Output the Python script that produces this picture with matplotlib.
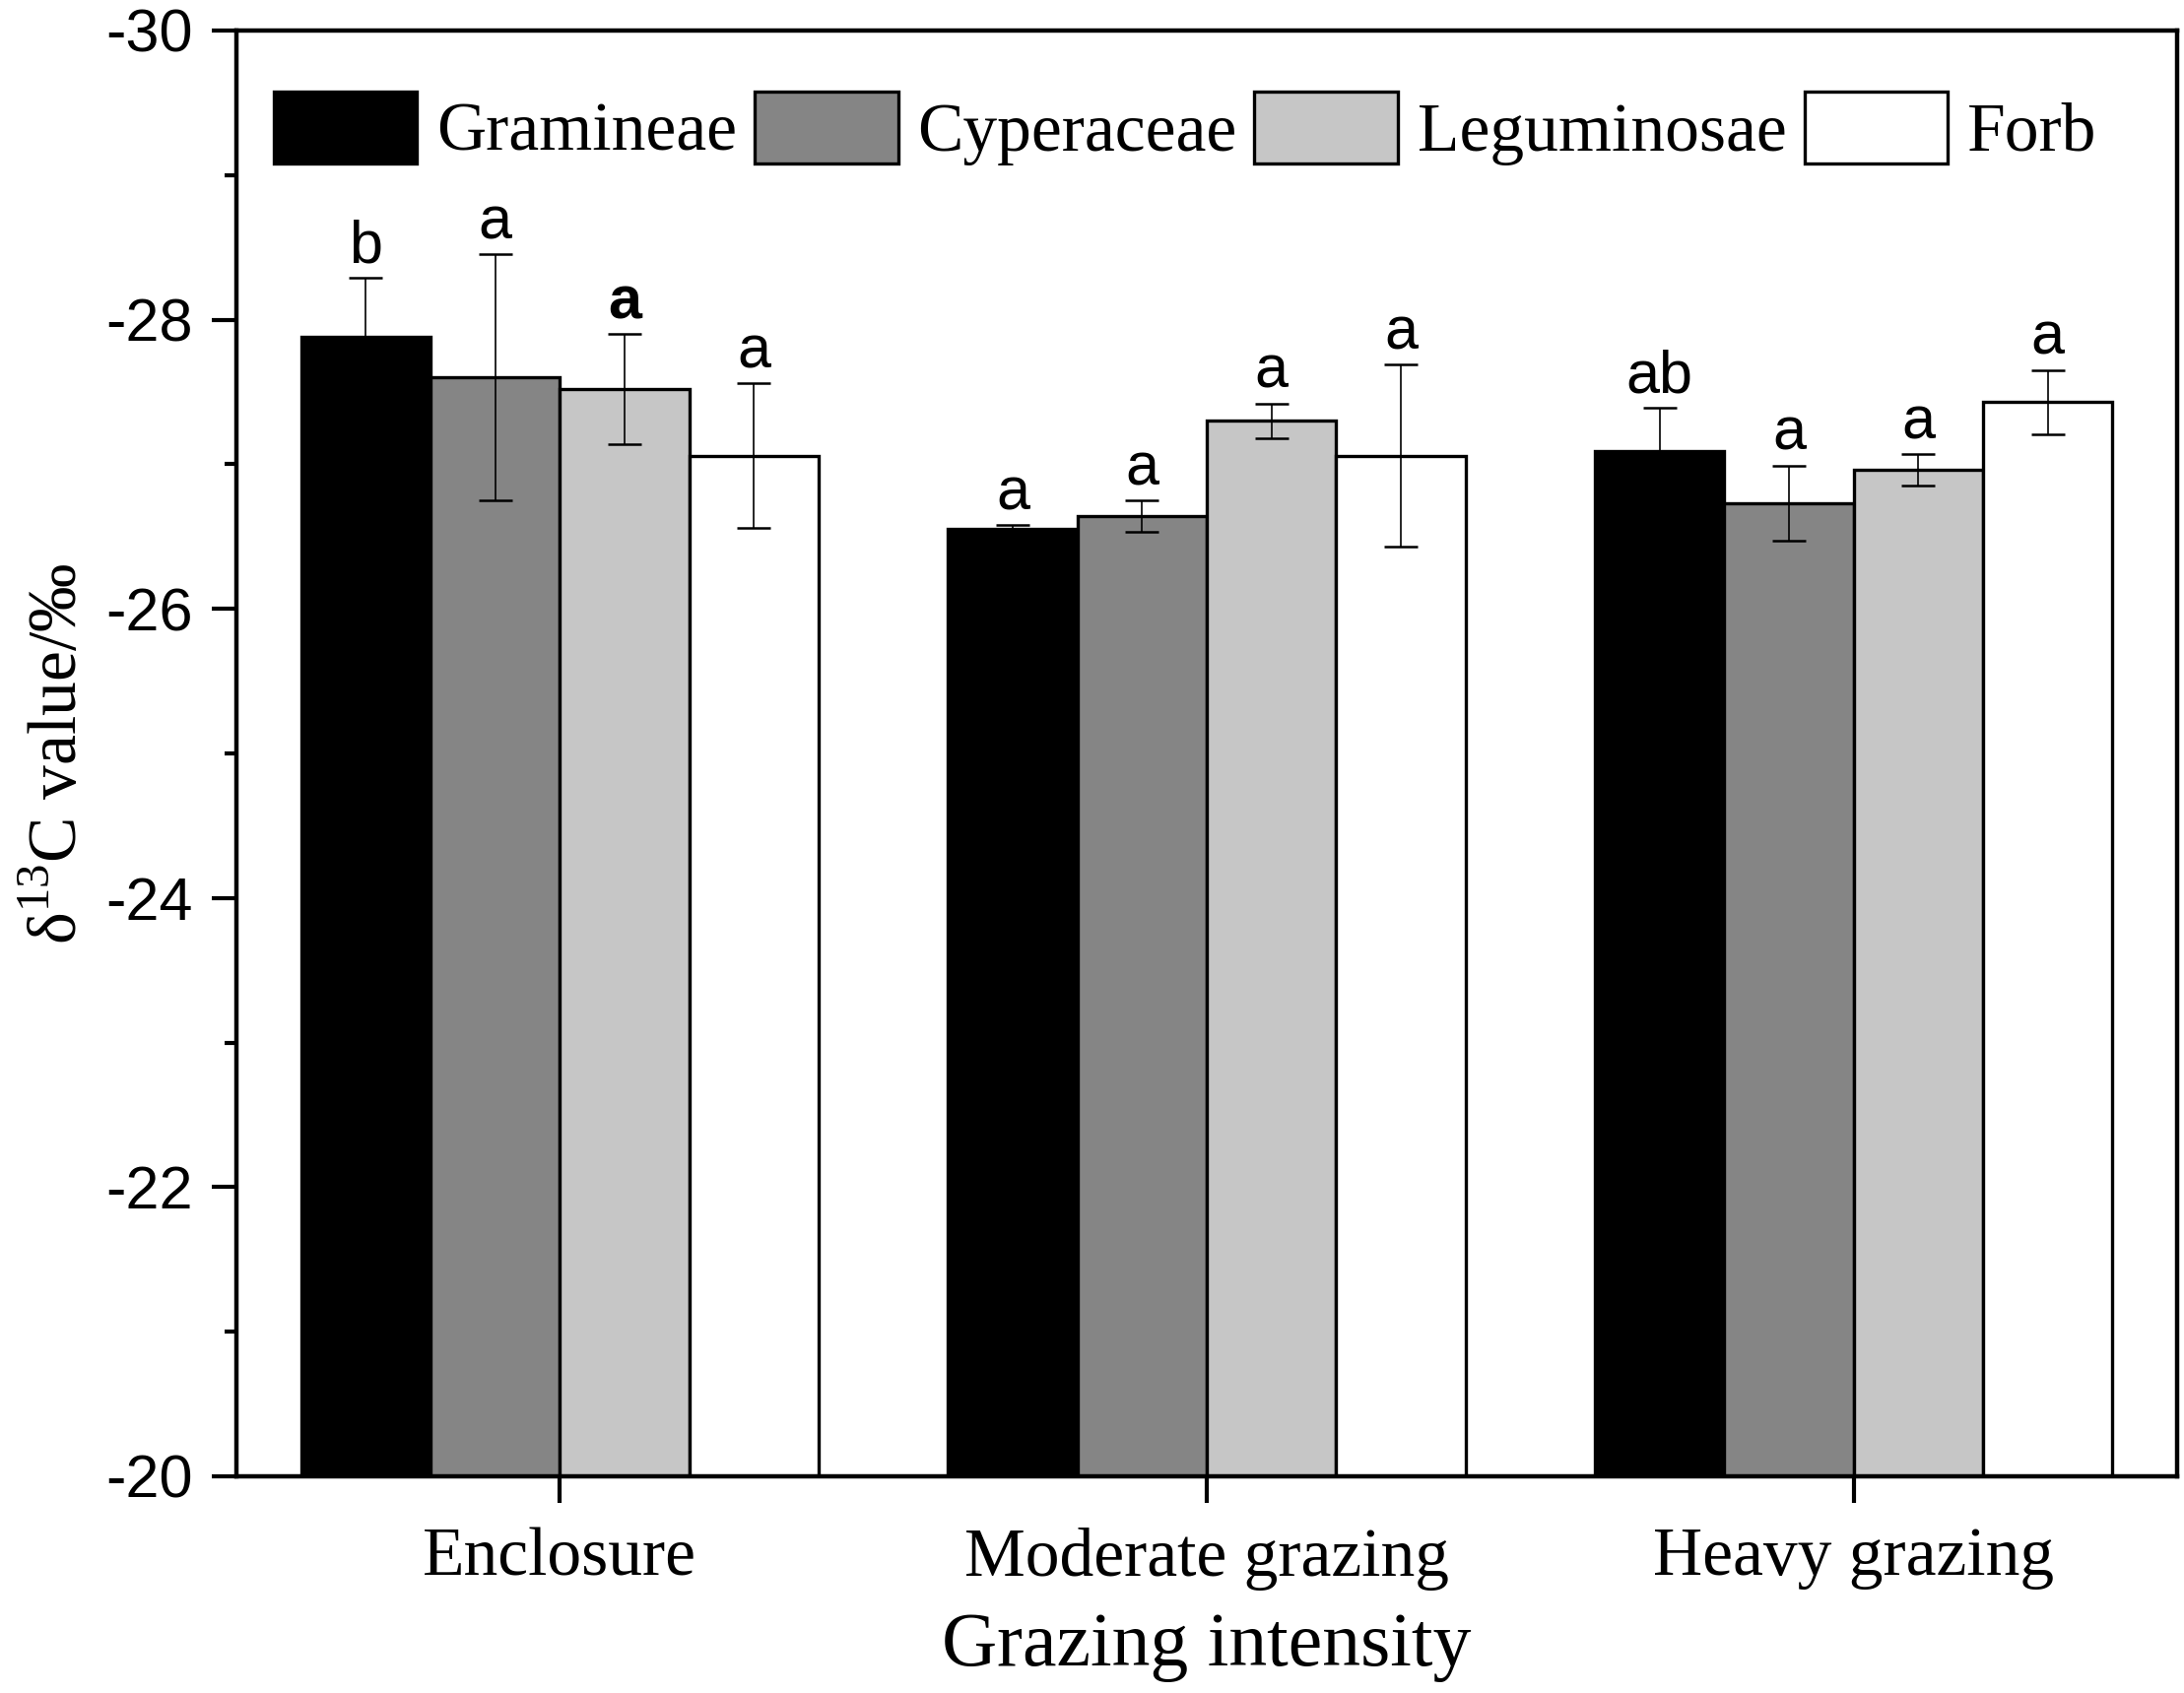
import numpy as np
import matplotlib
matplotlib.use("Agg")
import matplotlib.pyplot as plt
from matplotlib.ticker import MultipleLocator

plt.rcParams["mathtext.fontset"] = "custom"
plt.rcParams["mathtext.rm"] = "Liberation Serif"
plt.rcParams["axes.unicode_minus"] = False

groups = ["Enclosure", "Moderate grazing", "Heavy grazing"]
families = ["Gramineae", "Cyperaceae", "Leguminosae", "Forb"]
colors = ["#000000", "#858585", "#c6c6c6", "#ffffff"]

# delta 13C means and errors, rows = families, cols = grazing groups
means = {
    "Gramineae":   [-27.88, -26.55, -27.09],
    "Cyperaceae":  [-27.60, -26.64, -26.73],
    "Leguminosae": [-27.52, -27.30, -26.96],
    "Forb":        [-27.06, -27.06, -27.43],
}
errs = {
    "Gramineae":   [0.41, 0.03, 0.30],
    "Cyperaceae":  [0.85, 0.11, 0.26],
    "Leguminosae": [0.38, 0.12, 0.11],
    "Forb":        [0.50, 0.63, 0.22],
}
letters = {
    "Gramineae":   ["b", "a", "ab"],
    "Cyperaceae":  ["a", "a", "a"],
    "Leguminosae": ["a", "a", "a"],
    "Forb":        ["a", "a", "a"],
}

base = -20
width = 0.2
x = np.arange(len(groups))

fig = plt.figure(figsize=(11.085, 8.595), dpi=200)
ax = fig.add_axes([0.1083, 0.128, 0.8885, 0.854])

for i, fam in enumerate(families):
    pos = x + (i - 1.5) * width
    vals = np.array(means[fam])
    e = np.array(errs[fam])
    ax.bar(pos, vals - base, width, bottom=base, color=colors[i],
           edgecolor="black", linewidth=1.2, label=fam,
           yerr=e, error_kw=dict(ecolor="black", elinewidth=0.6,
                                 capsize=6, capthick=0.9))
    for p, v, ee, lab in zip(pos, vals, e, letters[fam]):
        bold = (fam == "Leguminosae" and lab == "a" and p < 0.5)
        ax.text(p, v - ee - 0.02, lab, ha="center", va="bottom",
                fontsize=22, family="Liberation Sans",
                fontweight="bold" if bold else "normal")

ax.set_xlim(-0.5, 2.5)
ax.set_ylim(-20, -30)
ax.set_xticks(x)
ax.set_xticklabels(groups, family="Liberation Serif", fontsize=25)
ax.yaxis.set_major_locator(MultipleLocator(2))
ax.yaxis.set_minor_locator(MultipleLocator(1))
for lab in ax.get_yticklabels():
    lab.set_family("Liberation Sans")
    lab.set_fontsize(22)
ax.tick_params(axis="y", which="major", direction="out", length=9, width=1.5, pad=7)
ax.tick_params(axis="y", which="minor", direction="out", length=4.5, width=1.5)
ax.tick_params(axis="x", direction="out", length=9.6, width=1.5, pad=9)
for s in ax.spines.values():
    s.set_linewidth(1.6)

ax.set_xlabel("Grazing intensity", family="Liberation Serif", fontsize=28, labelpad=8)
ax.set_ylabel(r"δ$^{13}$C value/‰", family="Liberation Serif", fontsize=25, labelpad=5)

ax.legend(loc="upper left", bbox_to_anchor=(0.019, 0.958), ncol=4, frameon=False,
          prop={"family": "Liberation Serif", "size": 25},
          handlelength=2.1, handleheight=1.26, handletextpad=0.28,
          columnspacing=0.26, borderpad=0, borderaxespad=0)

fig.savefig("out.png", dpi=200)
